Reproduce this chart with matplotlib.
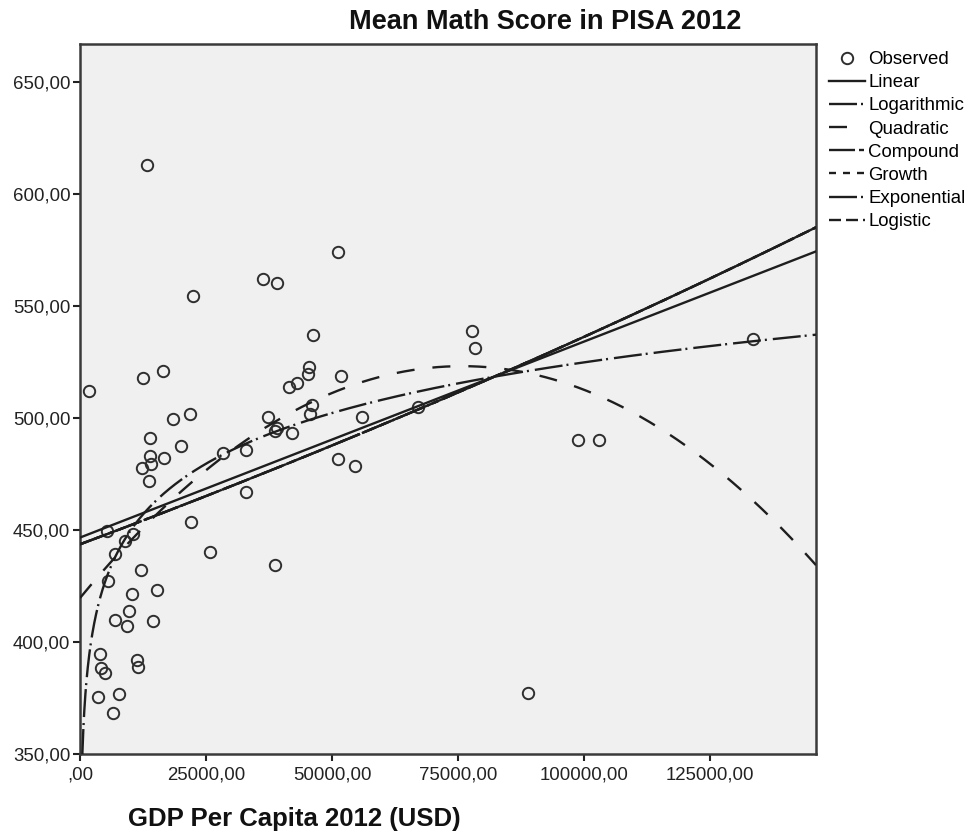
import numpy as np
import matplotlib
matplotlib.use("Agg")
import matplotlib.pyplot as plt

# ---- data ----
gdp = [13300, 51250, 36370, 39090, 22360, 46300, 45500, 45300, 51720, 43000,
       41400, 1790, 12560, 16530, 18520, 21830, 13900, 37370, 39020, 38760,
       42000, 46090, 45630, 55890, 20040, 13890, 16730, 14090, 12370, 13760,
       28440, 32870, 32870, 21960, 5290, 8930, 10580, 6940, 25790, 38690,
       12040, 5490, 10380, 15340, 9720, 6940, 9390, 14550, 3970, 4100,
       4960, 11240, 11440, 3510, 7740, 6610, 51260, 54560, 67140, 77700,
       78370, 88890, 98810, 102980, 133570]
score = [613, 574, 562, 560.5, 554.6, 537, 523, 519.5, 518.8, 515.5,
         514, 512, 518, 521, 499.4, 501.8, 491, 500.3, 495.4, 494.3,
         493.4, 505.8, 501.8, 500.6, 487.6, 483, 482, 479.7, 477.5, 471.9,
         484.6, 485.7, 467, 453.4, 449.6, 445, 448.4, 439.1, 440, 434.4,
         432, 427.2, 421.3, 423.2, 413.8, 409.8, 407.3, 409.6, 394.5, 388.2,
         386, 392, 389, 375.6, 376.8, 368.2, 481.7, 478.6, 505, 538.8,
         531.3, 377.2, 490.2, 490.2, 535.3]

x_ticks = [0, 25000, 50000, 75000, 100000, 125000]
y_ticks = [350, 400, 450, 500, 550, 600, 650]
x_limits = (0, 146000)
y_limits = (350, 667)

title = "Mean Math Score in PISA 2012"
x_label = "GDP Per Capita 2012 (USD)"
model_names = ["Linear", "Logarithmic", "Quadratic", "Compound",
               "Growth", "Exponential", "Logistic"]

# ---- curve estimation (same models as SPSS) ----
x = np.asarray(gdp, float)
y = np.asarray(score, float)
xs = np.linspace(x_limits[0], x_limits[1], 800)
xs_pos = np.linspace(50, x_limits[1], 4000)

lin = np.polyfit(x, y, 1)
quad = np.polyfit(x, y, 2)
logc = np.polyfit(np.log(x), y, 1)
expc = np.polyfit(x, np.log(y), 1)          # ln y = ln b0 + b1 x
b0 = np.exp(expc[1]); b1 = expc[0]
lgc = np.polyfit(x, np.log(1.0 / y), 1)     # logistic without upper bound

curves = {
    "Linear": (xs, np.polyval(lin, xs)),
    "Logarithmic": (xs_pos, np.polyval(logc, np.log(xs_pos))),
    "Quadratic": (xs, np.polyval(quad, xs)),
    "Compound": (xs, b0 * np.exp(b1) ** xs),
    "Growth": (xs, np.exp(expc[1] + b1 * xs)),
    "Exponential": (xs, b0 * np.exp(b1 * xs)),
    "Logistic": (xs, 1.0 / (np.exp(lgc[1]) * np.exp(lgc[0]) ** xs)),
}

px = 0.72  # points per pixel at dpi 100
styles = {
    "Linear": "-",
    "Logarithmic": (0, (28 * px, 4 * px, 2 * px, 6 * px)),
    "Quadratic": (0, (18 * px, 18 * px)),
    "Compound": (0, (26 * px, 4 * px, 5 * px, 4 * px)),
    "Growth": (0, (7 * px, 7 * px)),
    "Exponential": (0, (28 * px, 4 * px, 2 * px, 4 * px)),
    "Logistic": (0, (12 * px, 5 * px)),
}

plt.rcParams["font.family"] = ["Liberation Sans", "DejaVu Sans"]
plt.rcParams["lines.scale_dashes"] = False

fig = plt.figure(figsize=(9.70, 8.36), dpi=100)
ax = fig.add_axes([80 / 970, 1 - 754 / 836, (816 - 80) / 970, (754 - 44) / 836])
ax.set_facecolor("#f0f0f0")

ink = "#1e1e1e"
handles = []
sc = ax.plot(x, y, linestyle="none", marker="o", markersize=8.2,
             markerfacecolor="none", markeredgecolor="#2e2e2e",
             markeredgewidth=1.4, zorder=3)[0]
handles.append(sc)
for name in model_names:
    cx, cy = curves[name]
    ln = ax.plot(cx, cy, color=ink, linewidth=1.7, linestyle=styles[name],
                 zorder=4)[0]
    handles.append(ln)

ax.set_xlim(*x_limits)
ax.set_ylim(*y_limits)
ax.set_xticks(x_ticks)
ax.set_yticks(y_ticks)


def fmt(v):
    s = f"{v:.2f}".replace(".", ",")
    return s[1:] if s.startswith("0,") else s


ax.set_xticklabels([fmt(v) for v in x_ticks])
ax.set_yticklabels([fmt(v) for v in y_ticks])
ax.tick_params(axis="both", direction="out", length=5, width=1.5,
               labelsize=13.4, colors="#222222", pad=2)
ax.tick_params(axis="x", pad=4)
for s in ax.spines.values():
    s.set_color("#3a3a3a")
    s.set_linewidth(1.8)

fig.text(545 / 970, 1 - 22 / 836, title, ha="center", va="center",
         fontsize=19.5, fontweight="bold", color="#111111")
fig.text(294 / 970, 1 - 819 / 836, x_label, ha="center", va="center",
         fontsize=18.5, fontweight="bold", color="#111111")

fig.legend(handles, ["Observed"] + model_names, loc="upper left",
           bbox_to_anchor=(829 / 970, 1 - 51 / 836), frameon=False,
           fontsize=13.4, handlelength=1.95, handletextpad=0.15,
           labelspacing=0.33, borderaxespad=0, borderpad=0)

fig.savefig("out.png", dpi=100)
